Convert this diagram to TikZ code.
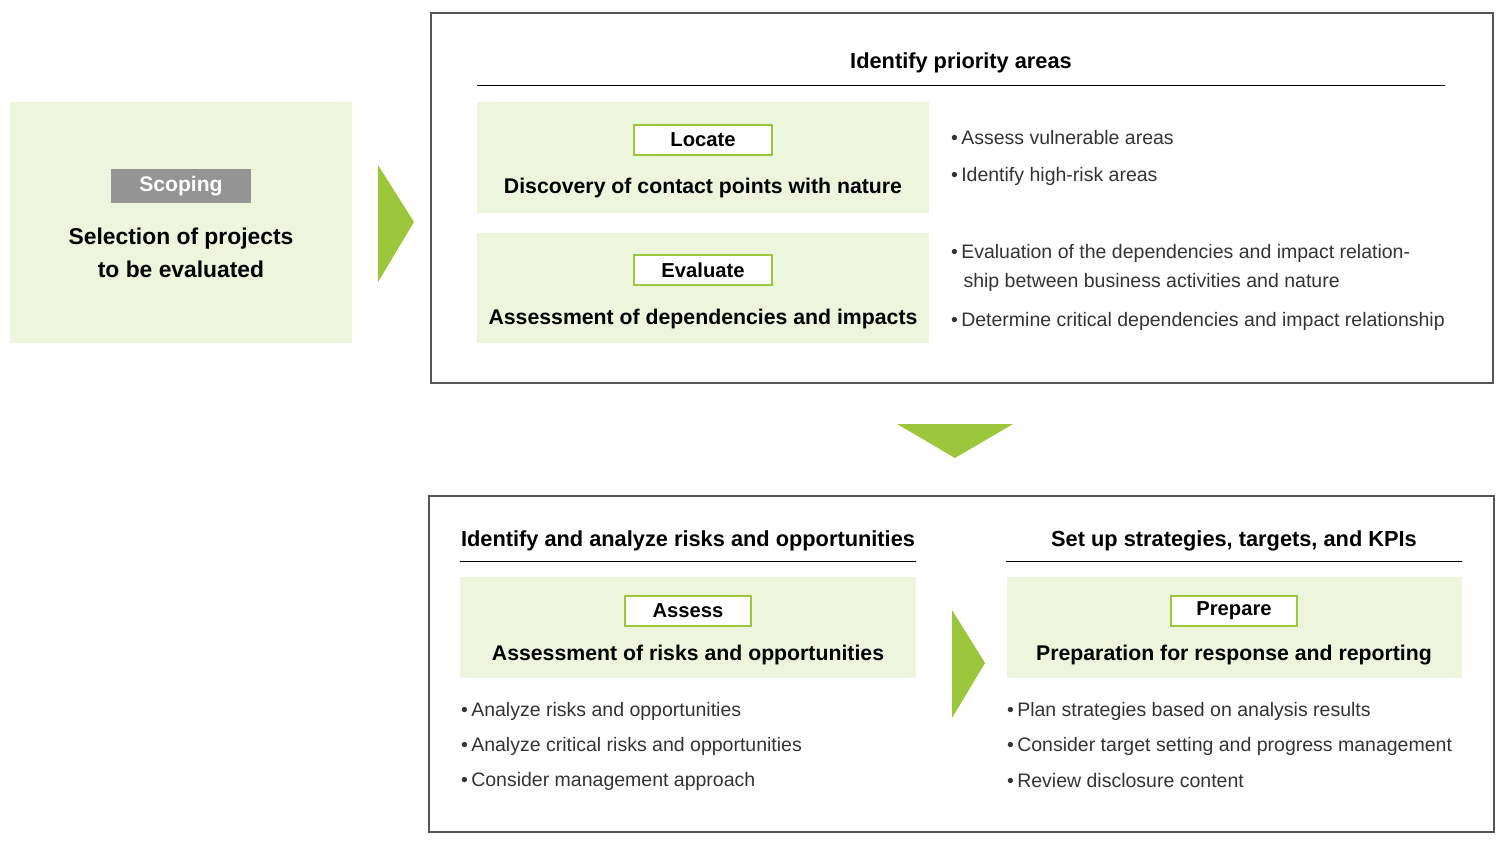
\documentclass[tikz,border=0pt]{standalone}
\usepackage{fontspec}
\setmainfont{Liberation Sans}
\definecolor{paleg}{HTML}{EEF5DD}
\definecolor{leafg}{HTML}{9CC63B}
\definecolor{frameg}{HTML}{555555}
\tikzset{
  panel/.style={draw=frameg,line width=0.8pt},
  greenbox/.style={fill=paleg},
  tagbox/.style={draw=leafg,line width=1.2pt,fill=white,minimum height=17pt,font=\fontsize{11.5}{14}\selectfont\bfseries},
  head/.style={font=\fontsize{12.4}{16}\selectfont\bfseries},
  maintext/.style={font=\fontsize{12.1}{15}\selectfont\bfseries},
  bullet/.style={anchor=west,align=left,font=\fontsize{11.1}{16.5}\selectfont,text=black!80},
  pointer/.style={fill=leafg}
}
\begin{document}
\begin{tikzpicture}[x=0.02cm,y=-0.02cm]
\useasboundingbox (0,0) rectangle (1500,845);
% scoping
\fill[greenbox] (10,102) rectangle (352,343);
\node[fill=black!42,text=white,minimum width=80pt,minimum height=19pt,font=\fontsize{12}{14}\selectfont\bfseries] (scope) at (181,186) {Scoping};
\node[maintext,font=\fontsize{13}{15}\selectfont\bfseries,align=center] (scopetext) at (181,253) {Selection of projects\\[4pt]to be evaluated};
\fill[pointer] (378,165) -- (414,222) -- (378,282) -- cycle;
% priority areas
\draw[panel] (431,13) rectangle (1493,383);
\node[head] (prio) at (961,63) {Identify priority areas};
\draw (477,85) -- (1445,85);
\fill[greenbox] (477,102) rectangle (929,213);
\node[tagbox,minimum width=79pt] (locate) at (703,140) {Locate};
\node[maintext] (loctext) at (703,188) {Discovery of contact points with nature};
\fill[greenbox] (477,233) rectangle (929,343);
\node[tagbox,minimum width=79pt] (evaluate) at (703,270) {Evaluate};
\node[maintext] (evaltext) at (703,319) {Assessment of dependencies and impacts};
\node[bullet] (b1) at (945,138) {\textbullet\,Assess vulnerable areas};
\node[bullet] (b2) at (945,176) {\textbullet\,Identify high-risk areas};
\node[bullet] (b3) at (945,268) {\textbullet\,Evaluation of the dependencies and impact relation-\\\hspace*{7pt}ship between business activities and nature};
\node[bullet] (b4) at (945,321) {\textbullet\,Determine critical dependencies and impact relationship};
\fill[pointer] (897,424) -- (1013,424) -- (955,458) -- cycle;
% risks and strategies
\draw[panel] (429,496) rectangle (1494,832);
\node[head] (risk) at (688,541) {Identify and analyze risks and opportunities};
\draw (460,561) -- (916,561);
\fill[greenbox] (460,577) rectangle (916,678);
\node[tagbox,minimum width=72pt] (assess) at (688,611) {Assess};
\node[maintext] (asstext) at (688,655) {Assessment of risks and opportunities};
\node[bullet] (c1) at (455,711) {\textbullet\,Analyze risks and opportunities};
\node[bullet] (c2) at (455,746) {\textbullet\,Analyze critical risks and opportunities};
\node[bullet] (c3) at (455,781) {\textbullet\,Consider management approach};
\fill[pointer] (952,610) -- (985,663) -- (952,718) -- cycle;
\node[head] (strat) at (1234,541) {Set up strategies, targets, and KPIs};
\draw (1006,561) -- (1462,561);
\fill[greenbox] (1007,577) rectangle (1462,678);
\node[tagbox,minimum width=72pt] (prepare) at (1234,611) {Prepare};
\node[maintext] (preptext) at (1234,655) {Preparation for response and reporting};
\node[bullet] (d1) at (1001,711) {\textbullet\,Plan strategies based on analysis results};
\node[bullet] (d2) at (1001,746) {\textbullet\,Consider target setting and progress management};
\node[bullet] (d3) at (1001,781) {\textbullet\,Review disclosure content};
\end{tikzpicture}
\end{document}
